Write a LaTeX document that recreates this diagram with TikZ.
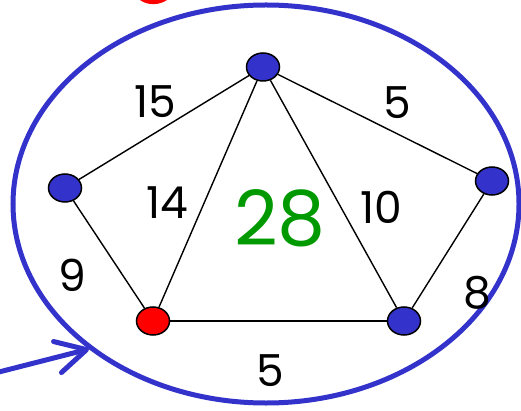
\documentclass[tikz,border=0pt]{standalone}
\usepackage{fontspec}
\setmainfont{Poppins}
\usetikzlibrary{arrows.meta}
\definecolor{myblue}{RGB}{51,51,204}
\definecolor{mygreen}{RGB}{0,153,0}
\tikzset{
  vtx/.style={ellipse, draw=black, line width=1.5pt, fill=myblue, minimum width=33pt, minimum height=28pt, inner sep=0pt},
  redvtx/.style={vtx, fill=red},
  edge/.style={draw=black, line width=1.4pt},
  lbl/.style={font=\fontsize{44}{44}\selectfont, text=black, inner sep=0pt},
}
\usetikzlibrary{shapes.geometric}
\begin{document}
\begin{tikzpicture}[x=1pt,y=-1pt]
\useasboundingbox (0,0) rectangle (521,411);
% red fragment at top
\fill[red] (140,0) .. controls (148,6) and (160,5) .. (167,0) -- cycle;
% big ellipse
\draw[myblue, line width=5pt] (266,204) ellipse [x radius=253, y radius=199];
% arrow
\coordinate (as) at (-5,373);
\coordinate (ae) at (89,349);
\draw[myblue, line width=5pt, line cap=round, -{Straight Barb[length=30pt,width=32pt,round]}] (as) -- (ae);
% vertices
\node[vtx] (t) at (263,67) {};
\node[vtx] (l) at (65,188) {};
\node[vtx] (r) at (492,181) {};
\node[redvtx] (a) at (153,321) {};
\node[vtx] (b) at (404,321) {};
% edges
\draw[edge] (t) -- (l);
\draw[edge] (t) -- (r);
\draw[edge] (t) -- (a);
\draw[edge] (t) -- (b);
\draw[edge] (l) -- (a);
\draw[edge] (r) -- (b);
\draw[edge] (a) -- (b);
% labels
\node[lbl] (l15) at (155,102) {15};
\node[lbl] (l5a) at (397,103) {5};
\node[lbl] (l14) at (167,203) {14};
\node[lbl] (l10) at (381,207) {10};
\node[lbl] (l9) at (72,275) {9};
\node[lbl] (l8) at (477,293) {8};
\node[lbl] (l5b) at (270,371) {5};
\node[font=\fontsize{76}{76}\selectfont, text=mygreen, inner sep=0pt] (l28) at (280,218) {28};
\end{tikzpicture}
\end{document}
